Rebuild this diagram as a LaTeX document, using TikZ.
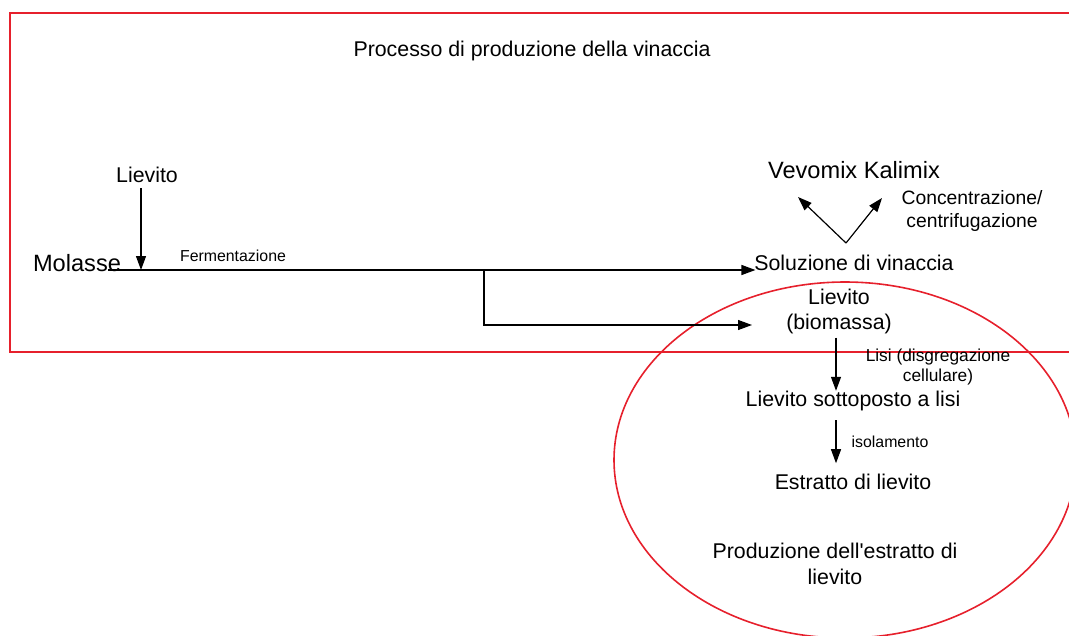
\documentclass[tikz,border=0pt]{standalone}
\usepackage{fontspec}
\setmainfont{Liberation Sans}
\usetikzlibrary{arrows.meta}
\definecolor{bordo}{RGB}{230,32,44}

\begin{document}
\begin{tikzpicture}[x=0.75pt,y=-0.75pt]
			\tikzset{testo/.style={align=center,inner sep=0pt,font=\fontsize{16}{19}\selectfont}}
			\tikzset{grande/.style={testo,font=\fontsize{17.7}{20}\selectfont}}
			\tikzset{piccolo/.style={testo,font=\fontsize{11.9}{14}\selectfont}}
			\tikzset{medio/.style={testo,font=\fontsize{14.5}{17}\selectfont}}
			\tikzset{freccia/.style={-{Triangle[length=10.5pt,width=7.5pt]},line width=0.9pt}}
			\tikzset{cornice/.style={draw=bordo,line width=1.2pt}}
			\useasboundingbox (0,0) rectangle (1069,635);
			\clip (0,0) rectangle (1069,635);
			% riquadri
			\draw[cornice] (10,13) rectangle (1080,352);
			\draw[cornice] (845,460) ellipse [x radius=231,y radius=178];
			% testi
			\node[testo] (titolo) at (532,51) {Processo di produzione della vinaccia};
			\node[testo] (lievito) at (147,175) {Lievito};
			\node[grande] (molasse) at (77,263) {Molasse};
			\node[piccolo] (ferm) at (233,256) {Fermentazione};
			\node[testo] (soluzione) at (854,263) {Soluzione di vinaccia};
			\node[grande] (vevomix) at (854,170) {Vevomix Kalimix};
			\node[medio] (conc) at (972,211) {Concentrazione/\\centrifugazione};
			\node[testo,font=\fontsize{16}{18.75}\selectfont] (biomassa) at (839,311) {Lievito\\(biomassa)};
			\node[piccolo,font=\fontsize{13}{15}\selectfont] (lisi) at (938,367) {Lisi (disgregazione\\cellulare)};
			\node[testo] (sottoposto) at (853,401) {Lievito sottoposto a lisi};
			\node[piccolo] (isol) at (890,442) {isolamento};
			\node[testo] (estratto) at (853,482) {Estratto di lievito};
			\node[testo,font=\fontsize{16}{20}\selectfont] (produzione) at (835,564) {Produzione dell\textquotesingle estratto di\\lievito};
			% punti
			\coordinate (inizio) at (108,270);
			\coordinate (ingresso) at (141,270);
			\coordinate (bivio) at (484,270);
			\coordinate (arrivo) at (752,325);
			\coordinate (vertice) at (846,243);
			\coordinate (sinistra) at (798,197);
			\coordinate (destra) at (882,198);
			% frecce
			\draw[freccia] (lievito.south -| ingresso) ++(0,5) -- (ingresso);
			\draw[freccia] (inizio) -- ([xshift=1pt]soluzione.west |- inizio);
			\draw[freccia] (bivio) |- (arrivo);
			\draw[freccia] (vertice) -- (sinistra);
			\draw[freccia] (vertice) -- (destra);
			\draw[freccia] (biomassa.south -| 836,0) ++(0,4) -- (sottoposto.north -| 836,0);
			\draw[freccia] (sottoposto.south -| 836,0) ++(0,9) -- ([yshift=8pt]estratto.north -| 836,0);
		\end{tikzpicture}
\end{document}
